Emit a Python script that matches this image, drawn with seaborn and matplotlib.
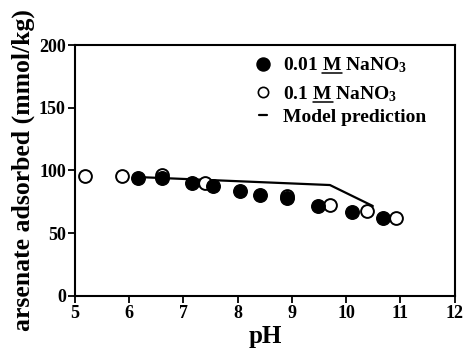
import matplotlib
matplotlib.use("Agg")
import matplotlib.pyplot as plt
from matplotlib.lines import Line2D
import seaborn as sns
import pandas as pd

# Arsenate adsorption vs pH at two ionic strengths
ph_low = [6.17, 6.6, 7.15, 7.54, 8.05, 8.41, 8.9, 9.48, 10.11, 10.68]
ads_low = [93.8, 93.8, 90.3, 87.6, 83.9, 80.5, 77.8, 71.7, 67.2, 61.9]

ph_high = [5.18, 5.87, 6.6, 7.39, 8.9, 9.70, 10.38, 10.92]
ads_high = [95.6, 95.6, 96.5, 89.8, 80.0, 72.5, 68.0, 62.4]

ph_model = [6.15, 9.70, 10.49]
ads_model = [94.8, 88.4, 71.7]

x_ticks = [5, 6, 7, 8, 9, 10, 11, 12]
y_ticks = [0, 50, 100, 150, 200]

label_low = "0.01 M NaNO$_3$"
label_high = "0.1 M NaNO$_3$"
label_model = "Model prediction"

sns.set_theme(style="ticks")
plt.rcParams["font.family"] = ["Liberation Serif", "DejaVu Serif"]
plt.rcParams["font.weight"] = "bold"
plt.rcParams["mathtext.fontset"] = "custom"
plt.rcParams["mathtext.rm"] = "Liberation Serif:bold"
plt.rcParams["mathtext.bf"] = "Liberation Serif:bold"
plt.rcParams["mathtext.it"] = "Liberation Serif:bold"
for key in ["text.color", "axes.labelcolor", "xtick.color", "ytick.color",
            "axes.edgecolor"]:
    plt.rcParams[key] = "black"

fig = plt.figure(figsize=(4.65, 3.49), dpi=100)
ax = fig.add_axes([0.161, 0.152, 0.817, 0.719])

df_low = pd.DataFrame({"pH": ph_low, "ads": ads_low})
df_high = pd.DataFrame({"pH": ph_high, "ads": ads_high})
df_model = pd.DataFrame({"pH": ph_model, "ads": ads_model})

sns.lineplot(data=df_model, x="pH", y="ads", ax=ax, color="black",
             linewidth=1.6, zorder=2, legend=False)
sns.scatterplot(data=df_high, x="pH", y="ads", ax=ax, s=85, marker="o",
                facecolor="white", edgecolor="black", linewidth=1.4, zorder=3,
                legend=False)
sns.scatterplot(data=df_low, x="pH", y="ads", ax=ax, s=95, marker="o",
                color="black", edgecolor="black", linewidth=1.0, zorder=4,
                legend=False)

ax.set_xlim(5, 12)
ax.set_ylim(0, 200)
ax.set_xticks(x_ticks)
ax.set_yticks(y_ticks)
ax.tick_params(axis="both", direction="out", length=5, width=1.3,
               labelsize=13, pad=1.5)
for lab in ax.get_xticklabels() + ax.get_yticklabels():
    lab.set_fontweight("bold")
for sp in ax.spines.values():
    sp.set_visible(True)
    sp.set_linewidth(1.5)

ax.set_xlabel("pH", fontsize=18, fontweight="bold", labelpad=2)
ax.set_ylabel("arsenate adsorbed (mmol/kg)", fontsize=18.5,
              fontweight="bold", labelpad=3)

# legend: two symbol entries, then the model line entry
h_low = Line2D([], [], marker="o", linestyle="none", markersize=9.4,
               markerfacecolor="black", markeredgecolor="black")
h_high = Line2D([], [], marker="o", linestyle="none", markersize=7.4,
                markerfacecolor="white", markeredgecolor="black",
                markeredgewidth=1.2)
h_model = Line2D([], [], color="black", linewidth=1.6)

leg_kw = dict(loc="upper left", frameon=False, fontsize=14,
              handlelength=0.4, handletextpad=0.85, borderpad=0.0,
              borderaxespad=0.0)
leg1 = ax.legend([h_low, h_high], [label_low, label_high],
                 bbox_to_anchor=(0.485, 0.958), labelspacing=0.45, **leg_kw)
ax.add_artist(leg1)
leg2 = ax.legend([h_model], [label_model],
                 bbox_to_anchor=(0.485, 0.748), **leg_kw)
for t in leg1.get_texts() + leg2.get_texts():
    t.set_fontweight("bold")

# underline the molarity unit "M" in the two ionic strength labels
fig.canvas.draw()
rend = fig.canvas.get_renderer()
inv = fig.transFigure.inverted()
for t in leg1.get_texts():
    s = t.get_text()
    prop = t.get_fontproperties()
    prefix = s.split("M")[0] + "M"
    w_pre = rend.get_text_width_height_descent(prefix, prop, ismath=True)[0]
    w_m = rend.get_text_width_height_descent("M", prop, ismath=True)[0]
    d_all = rend.get_text_width_height_descent(s, prop, ismath=True)[2]
    bb = t.get_window_extent(rend)
    base = bb.y0 + d_all
    x1 = bb.x0 + w_pre
    x0 = x1 - w_m
    (fx0, fy), (fx1, _) = inv.transform([(x0, base - 2.5), (x1, base - 2.5)])
    fig.add_artist(Line2D([fx0, fx1], [fy, fy], color="black", linewidth=1.1,
                          transform=fig.transFigure))

fig.savefig("out.png", dpi=100)
